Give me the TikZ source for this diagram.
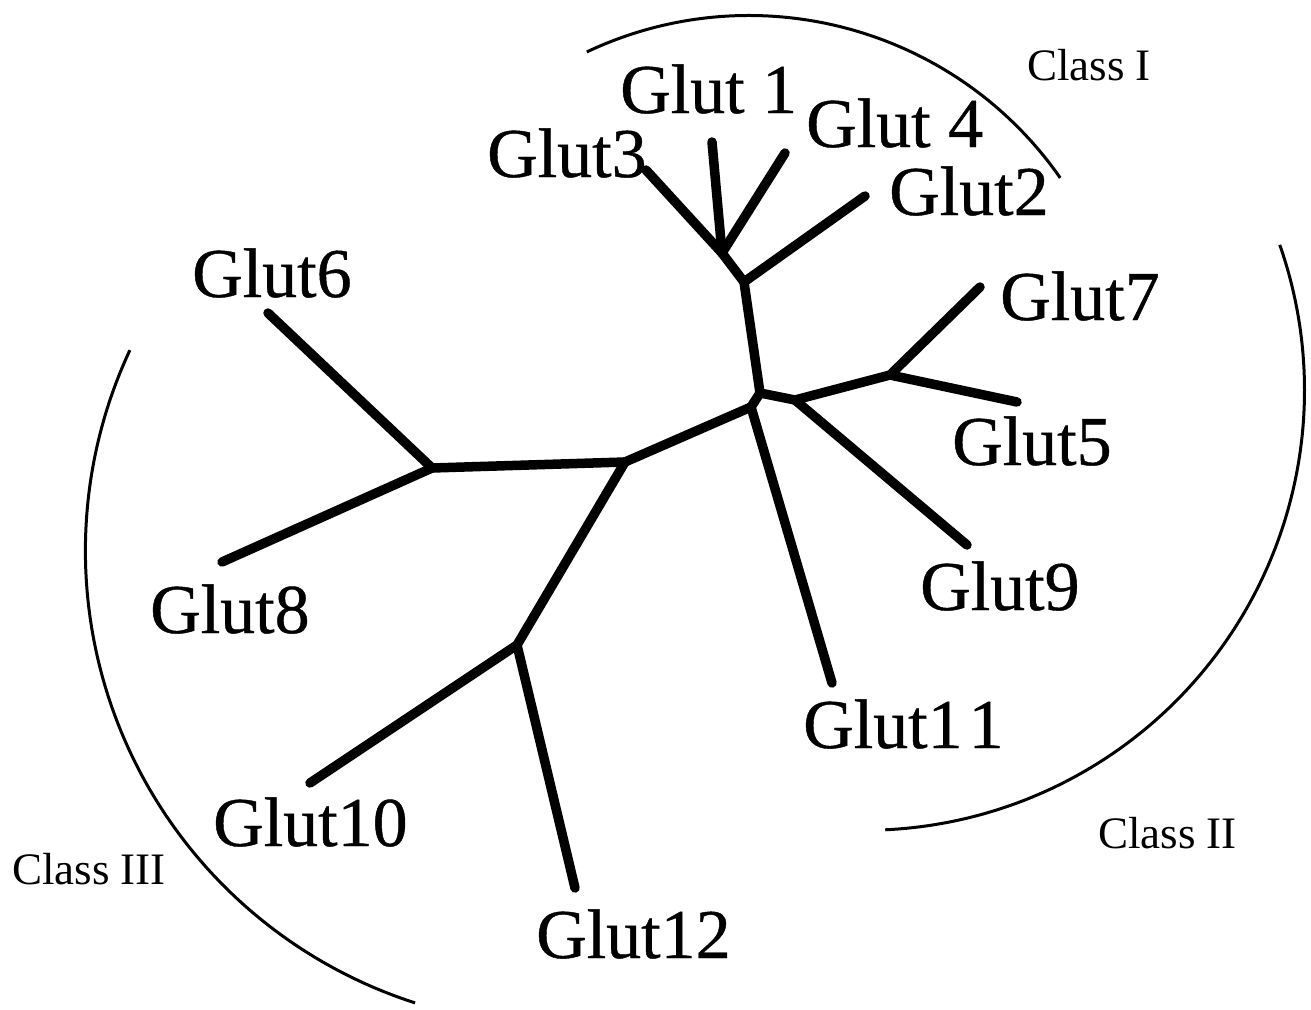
\documentclass[tikz,border=0pt]{standalone}
\usepackage{fontspec}
\setmainfont{Liberation Serif}
\newfontfamily\glutfont[FakeBold=0.6]{Liberation Serif}
\begin{document}
\begin{tikzpicture}[x=1pt,y=-1pt,
  branch/.style={line width=9.5pt, line cap=round, line join=round},
  classarc/.style={line width=3pt},
  leaf/.style={font=\glutfont\fontsize{70}{80}\selectfont, inner sep=0pt, anchor=base west},
  classlabel/.style={font=\fontsize{45}{50}\selectfont, inner sep=0pt, anchor=base west}]
\useasboundingbox (0,0) rectangle (1311,1009);
% internal nodes
\coordinate (n1) at (722,253);
\coordinate (n2) at (744,282);
\coordinate (n3) at (760,393);
\coordinate (n3b) at (795,400);
\coordinate (n3c) at (751,407);
\coordinate (n4) at (890,375);
\coordinate (n5) at (625,462);
\coordinate (n6) at (432,468);
\coordinate (n7) at (517,645);
% tips
\coordinate (t1) at (712,142);
\coordinate (t3) at (646,170);
\coordinate (t4) at (785,153);
\coordinate (t2) at (865,196);
\coordinate (t7) at (980,287);
\coordinate (t5) at (1017,402);
\coordinate (t9) at (967,545);
\coordinate (t11) at (832,683);
\coordinate (t6) at (268,313);
\coordinate (t8) at (222,562);
\coordinate (t10) at (310,783);
\coordinate (t12) at (575,888);
% branches
\draw[branch] (t1) -- (n1);
\draw[branch] (t3) -- (n1);
\draw[branch] (t4) -- (n1);
\draw[branch] (n1) -- (n2);
\draw[branch] (n2) -- (t2);
\draw[branch] (n2) -- (n3);
\draw[branch] (n3) -- (n3b);
\draw[branch] (n3b) -- (n4);
\draw[branch] (n3b) -- (t9);
\draw[branch] (n4) -- (t7);
\draw[branch] (n4) -- (t5);
\draw[branch] (n3) -- (n3c);
\draw[branch] (n3c) -- (t11);
\draw[branch] (n3c) -- (n5);
\draw[branch] (n5) -- (n6);
\draw[branch] (n6) -- (t6);
\draw[branch] (n6) -- (t8);
\draw[branch] (n5) -- (n7);
\draw[branch] (n7) -- (t10);
\draw[branch] (n7) -- (t12);
% labels
\node[leaf] (l1) at (620,113) {Glut 1};
\node[leaf] (l4) at (806,147) {Glut 4};
\node[leaf] (l3) at (487,177) {Glut3};
\node[leaf] (l2) at (889,215) {Glut2};
\node[leaf] (l6) at (192,297) {Glut6};
\node[leaf] (l7) at (1000,320) {Glut7};
\node[leaf] (l5) at (952,465) {Glut5};
\node[leaf] (l9) at (920,610) {Glut9};
\node[leaf] (l8) at (150,633) {Glut8};
\node[leaf] (l11) at (803,748) {Glut1\kern6pt1};
\node[leaf] (l10) at (213,846) {Glut10};
\node[leaf] (l12) at (536,958) {Glut12};
% class arcs
\draw[classarc] (749,395) ++(-115.3:379.5) arc[start angle=-115.3, end angle=-34.9, radius=379.5];
\draw[classarc] (864.5,390.3) ++(-19.3:440) arc[start angle=-19.3, end angle=87.3, radius=440];
\draw[classarc] (560.2,550.8) ++(205:474.8) arc[start angle=205, end angle=107.8, radius=474.8];
\node[classlabel] (c1) at (1027,80) {Class I};
\node[classlabel] (c2) at (1098,848) {Class II};
\node[classlabel] (c3) at (12,884) {Class III};
\end{tikzpicture}
\end{document}
